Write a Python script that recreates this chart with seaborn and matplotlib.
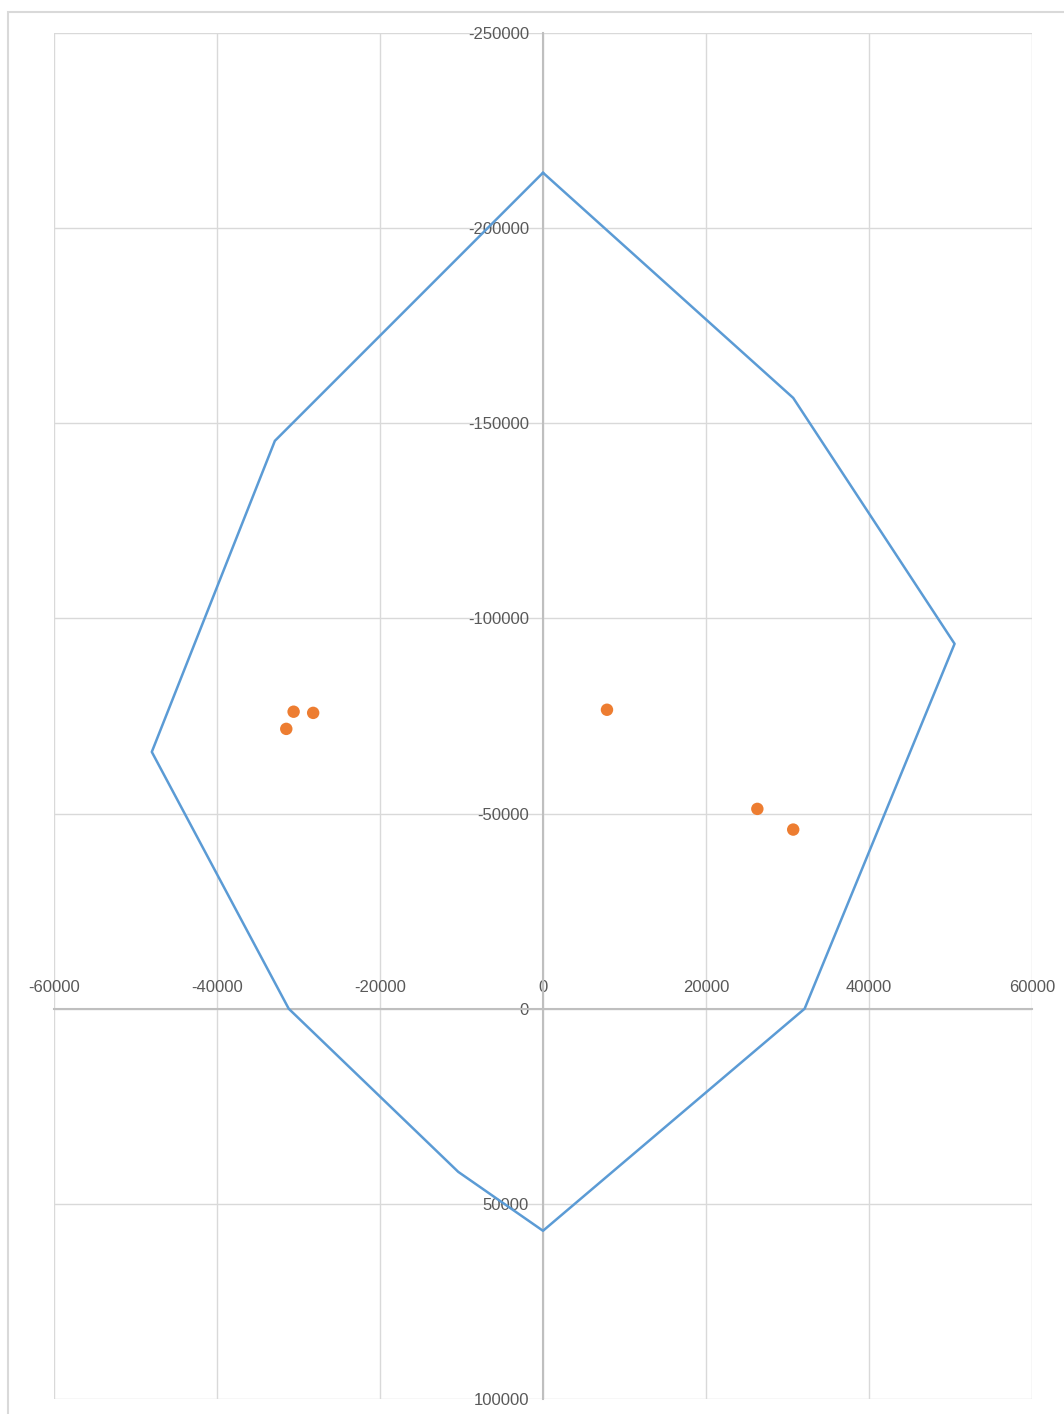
import numpy as np
import pandas as pd
import seaborn as sns
import matplotlib
matplotlib.use('Agg')
import matplotlib.pyplot as plt
from matplotlib.patches import Rectangle

sns.set_theme(style='white')
plt.rcParams['font.family'] = ['Liberation Sans', 'DejaVu Sans']

# boundary polygon (closed)
poly_x = [0, 30700, 50500, 32100, 0, -10400, -31200, -48000, -32900, 0]
poly_y = [-214200, -156500, -93500, 0, 56900, 41800, 0, -65800, -145500, -214200]

# points inside
pt_x = [-30600, -28200, -31500, 7850, 26300, 30700]
pt_y = [-76100, -75800, -71700, -76600, -51200, -45900]

x_ticks = list(range(-60000, 60001, 20000))
y_ticks = list(range(-250000, 100001, 50000))

W, H = 1064, 1414
fig = plt.figure(figsize=(W / 100, H / 100), dpi=100)
fig.patches.append(Rectangle((8 / W, -0.1), 2, 1 - 12 / H + 0.1, transform=fig.transFigure,
                             fill=False, edgecolor='#d9d9d9', linewidth=1.5))
ax = fig.add_axes([54 / W, 15 / H, 978 / W, 1366 / H])

line = pd.DataFrame({'x': poly_x, 'y': poly_y})
sns.lineplot(data=line, x='x', y='y', sort=False, estimator=None, ax=ax,
             color='#5b9bd5', linewidth=1.8, zorder=3)
pts = pd.DataFrame({'x': pt_x, 'y': pt_y})
sns.scatterplot(data=pts, x='x', y='y', ax=ax, color='#ed7d31', s=80,
                edgecolor='none', zorder=4)

ax.set_xlim(-60000, 60000)
ax.set_ylim(100000, -250000)
ax.set_xticks(x_ticks)
ax.set_yticks(y_ticks)
ax.set_xlabel('')
ax.set_ylabel('')
ax.grid(True, color='#d9d9d9', linewidth=1.0)
ax.set_axisbelow(True)

for s in ['right', 'bottom']:
    ax.spines[s].set_visible(False)
ax.spines['top'].set_position(('data', 0))
ax.spines['left'].set_position(('data', 0))
for s in ['top', 'left']:
    ax.spines[s].set_color('#bfbfbf')
    ax.spines[s].set_linewidth(1.5)
    ax.spines[s].set_zorder(2)
ax.xaxis.set_ticks_position('top')
ax.xaxis.set_label_position('top')
ax.tick_params(axis='both', length=0, labelsize=12, labelcolor='#595959', pad=10)
ax.set_xticklabels([str(v) for v in x_ticks])
ax.set_yticklabels([str(v) for v in y_ticks])
for t in ax.get_xticklabels() + ax.get_yticklabels():
    t.set_clip_on(False)

fig.savefig('out.png', dpi=100)
